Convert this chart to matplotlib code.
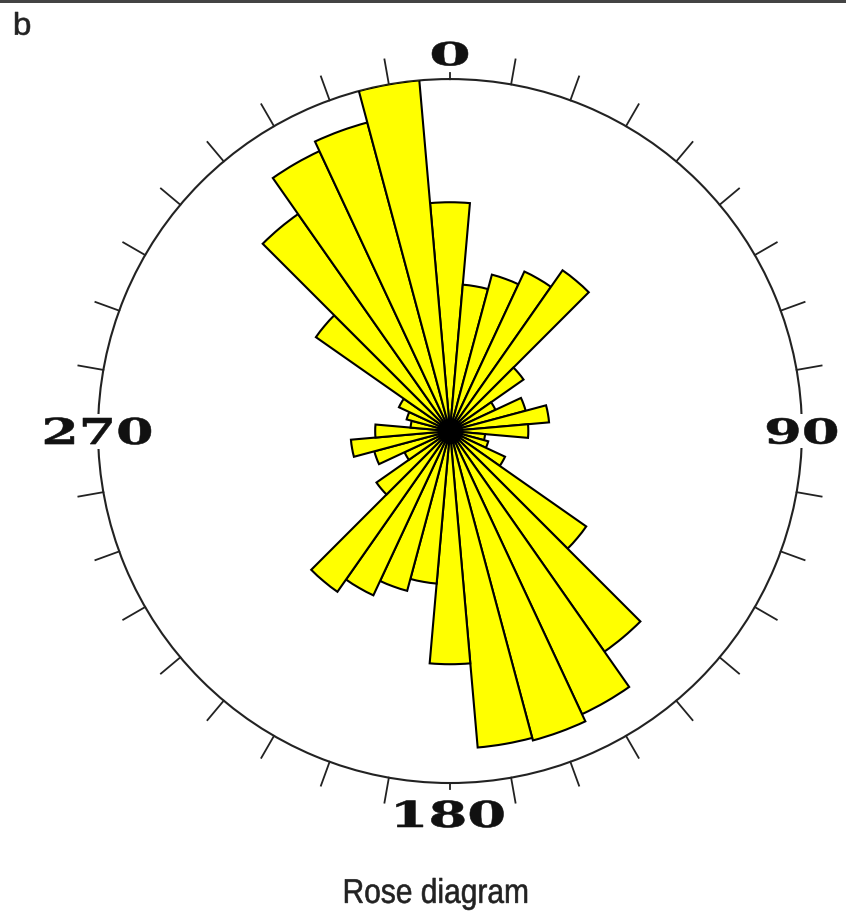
import matplotlib
matplotlib.use("Agg")
import matplotlib.pyplot as plt
import numpy as np
from matplotlib.textpath import TextPath
from matplotlib.patches import PathPatch, Rectangle
from matplotlib.font_manager import FontProperties
from matplotlib.transforms import Affine2D


# strike directions (bin centres, degrees clockwise from north) and frequencies
directions = np.arange(0, 360, 10)
frequency = [
    26.0, 16.7, 18.4, 20.0, 22.3, 10.2, 5.7, 8.9, 11.3, 8.9, 4.0, 4.5,
    6.9, 18.9, 30.6, 35.5, 36.4, 36.1, 26.5, 17.4, 18.8, 20.6, 22.3, 10.2,
    5.7, 8.9, 11.3, 8.5, 4.5, 5.1, 6.4, 18.6, 30.1, 35.1, 36.3, 40.0,
]
bin_width = 10
r_max = 40.0

cardinal_labels = ["0", "90", "180", "270"]
cardinal_angles = [0, 90, 180, 270]

W, H = 846, 914


def fitted_text(fig, text, cx, cy, width, height, prop, color, box=False):
    """Text drawn as a path, scaled to a given pixel box centred on (cx, cy)."""
    path = TextPath((0, 0), text, size=100, prop=prop)
    ext = path.get_extents()
    tr = (Affine2D()
          .translate(-(ext.x0 + ext.x1) / 2, -(ext.y0 + ext.y1) / 2)
          .scale(width / ext.width, height / ext.height)
          .translate(cx, cy))
    if box:
        pad = 4
        fig.add_artist(Rectangle((cx - width / 2 - pad, cy - height / 2 - pad),
                                 width + 2 * pad, height + 2 * pad,
                                 transform=None, facecolor="white",
                                 edgecolor="none", zorder=5))
    fig.add_artist(PathPatch(path, transform=tr, facecolor=color,
                             edgecolor=color, linewidth=0.4, zorder=6))


fig = plt.figure(figsize=(W / 100, H / 100), dpi=100)
fig.patch.set_facecolor("white")

ax = fig.add_axes([0.1158, 0.1433, 0.8322, 0.7702], projection="polar")
ax.set_theta_zero_location("N")
ax.set_theta_direction(-1)
ax.set_rlim(0, r_max)
ax.grid(False)
ax.set_xticks([])
ax.set_yticks([])
ax.spines["polar"].set_color("#222222")
ax.spines["polar"].set_linewidth(1.5)

theta = np.deg2rad(directions)
ax.bar(theta, frequency, width=np.deg2rad(bin_width), bottom=0,
       align="center", color="#ffff00", edgecolor="black", linewidth=1.5,
       zorder=3)
ax.scatter([0], [0], s=330, color="black", linewidths=0, zorder=4)

# tick marks every 10 degrees, short ones under the cardinal labels
for a in np.arange(0, 360, 10):
    t = np.deg2rad(a)
    length = 0.018 if a % 90 == 0 else 0.072
    ax.plot([t, t], [r_max, r_max * (1 + length)], color="#222222",
            linewidth=1.3, clip_on=False, zorder=2)

serif_bold = FontProperties(family="DejaVu Serif", weight="bold")
label_pos = {"0": (1.072, 36, 24), "90": (1.0, 70, 26),
             "180": (1.088, 107, 27), "270": (1.0, 106, 27)}
for lab, ang in zip(cardinal_labels, cardinal_angles):
    rfac, w, h = label_pos[lab]
    cx, cy = ax.transData.transform((np.deg2rad(ang), r_max * rfac))
    fitted_text(fig, lab, cx, cy, w, h, serif_bold, "#111111", box=True)

sans = FontProperties(family=["Liberation Sans", "DejaVu Sans"])
fitted_text(fig, "b", 22.5, H - 23.5, 15, 23, sans, "#222222")
fitted_text(fig, "Rose diagram", 436, H - 894, 182, 32, sans, "#222222")

# dark rule along the top edge
fig.add_artist(Rectangle((0, 1 - 3 / H), 1, 3 / H,
                         transform=fig.transFigure, facecolor="#444444",
                         edgecolor="none"))

fig.savefig("out.png", dpi=100)
